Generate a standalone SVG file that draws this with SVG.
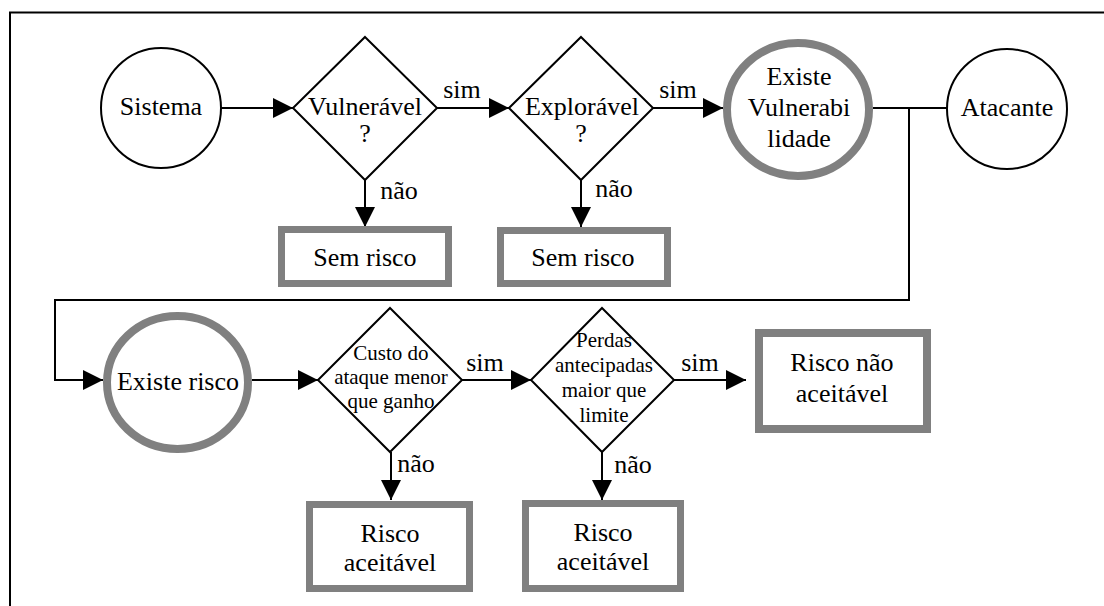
<svg xmlns="http://www.w3.org/2000/svg" width="1104" height="606" viewBox="0 0 1104 606">
<style>
text{font-family:'Liberation Serif','Times New Roman','DejaVu Serif',serif;fill:#000;text-anchor:middle}
.t{font-size:26px}
.s{font-size:21px}
.thin{fill:#fff;stroke:#000;stroke-width:2}
.thick{fill:#fff;stroke:#808080;stroke-width:8}
.box{fill:#fff;stroke:#808080;stroke-width:7}
.c{fill:none;stroke:#000;stroke-width:2}
</style>
<defs>
<marker id="ah" viewBox="0 0 20 20" refX="20" refY="10" markerWidth="20" markerHeight="20" markerUnits="userSpaceOnUse" orient="auto">
<path d="M0,0 L20,10 L0,20 Z" fill="#000"/>
</marker>
</defs>
<rect width="1104" height="606" fill="#fff"/>
<path d="M10,606 V12.5 H1104" fill="none" stroke="#000" stroke-width="2"/>
<g id="connectors">
<path class="c" d="M221,108 H293" marker-end="url(#ah)"/>
<path class="c" d="M437,108 H509" marker-end="url(#ah)"/>
<path class="c" d="M653,108 H723" marker-end="url(#ah)"/>
<path class="c" d="M365,180 V227" marker-end="url(#ah)"/>
<path class="c" d="M581,180 V227" marker-end="url(#ah)"/>
<path class="c" d="M873,108 H947"/>
<path class="c" d="M909,108 V300 H55 V380 H103" marker-end="url(#ah)"/>
<path class="c" d="M252,380 H318" marker-end="url(#ah)"/>
<path class="c" d="M462,380 H531" marker-end="url(#ah)"/>
<path class="c" d="M674,380 H746" marker-end="url(#ah)"/>
<path class="c" d="M391,452 V500" marker-end="url(#ah)"/>
<path class="c" d="M602,452 V500" marker-end="url(#ah)"/>
<text class="t" x="462" y="98">sim</text>
<text class="t" x="678" y="98">sim</text>
<text class="t" x="399" y="199">não</text>
<text class="t" x="614" y="197">não</text>
<text class="t" x="485" y="371">sim</text>
<text class="t" x="700" y="371">sim</text>
<text class="t" x="416" y="472">não</text>
<text class="t" x="633" y="473">não</text>
</g>
<g id="sistema">
<circle class="thin" cx="161" cy="108" r="60"/>
<text class="t" x="161" y="115">Sistema</text>
</g>
<g id="vulneravel">
<path class="thin" d="M365,37 L437,108 L365,180 L293,108 Z"/>
<text class="t" x="365" y="115">Vulnerável</text>
<text class="t" x="365" y="142">?</text>
</g>
<g id="exploravel">
<path class="thin" d="M581,37 L653,108 L581,180 L509,108 Z"/>
<text class="t" x="582" y="115">Explorável</text>
<text class="t" x="581" y="142">?</text>
</g>
<g id="sem-risco-1">
<rect class="box" x="281.5" y="229.5" width="167" height="54"/>
<text class="t" x="365" y="266">Sem risco</text>
</g>
<g id="sem-risco-2">
<rect class="box" x="500.5" y="230.5" width="167" height="53"/>
<text class="t" x="583" y="266">Sem risco</text>
</g>
<g id="existe-vulnerabilidade">
<ellipse class="thick" cx="798" cy="109.5" rx="71" ry="66.5"/>
<text class="t" x="799" y="85">Existe</text>
<text class="t" x="799" y="116">Vulnerabi</text>
<text class="t" x="799" y="147">lidade</text>
</g>
<g id="atacante">
<circle class="thin" cx="1007" cy="109" r="60"/>
<text class="t" x="1007" y="116">Atacante</text>
</g>
<g id="existe-risco">
<ellipse class="thick" cx="177.5" cy="382.5" rx="70.5" ry="66.5"/>
<text class="t" x="178" y="390">Existe risco</text>
</g>
<g id="custo">
<path class="thin" d="M390,308 L462,380 L390,452 L318,380 Z"/>
<text class="s" x="391" y="360">Custo do</text>
<text class="s" x="391" y="384">ataque menor</text>
<text class="s" x="391" y="408">que ganho</text>
</g>
<g id="perdas">
<path class="thin" d="M602,308 L674,380 L602,452 L531,380 Z"/>
<text class="s" x="604" y="347">Perdas</text>
<text class="s" x="604" y="372">antecipadas</text>
<text class="s" x="604" y="397">maior que</text>
<text class="s" x="604" y="422">limite</text>
</g>
<g id="risco-nao-aceitavel">
<rect class="thick" x="759" y="333" width="168" height="96"/>
<text class="t" x="842" y="371">Risco não</text>
<text class="t" x="842" y="402">aceitável</text>
</g>
<g id="risco-aceitavel-1">
<rect class="box" x="309.5" y="504.5" width="160" height="84"/>
<text class="t" x="390" y="542">Risco</text>
<text class="t" x="390" y="571">aceitável</text>
</g>
<g id="risco-aceitavel-2">
<rect class="box" x="525.5" y="503.5" width="155" height="85"/>
<text class="t" x="603" y="541">Risco</text>
<text class="t" x="603" y="570">aceitável</text>
</g>
</svg>
